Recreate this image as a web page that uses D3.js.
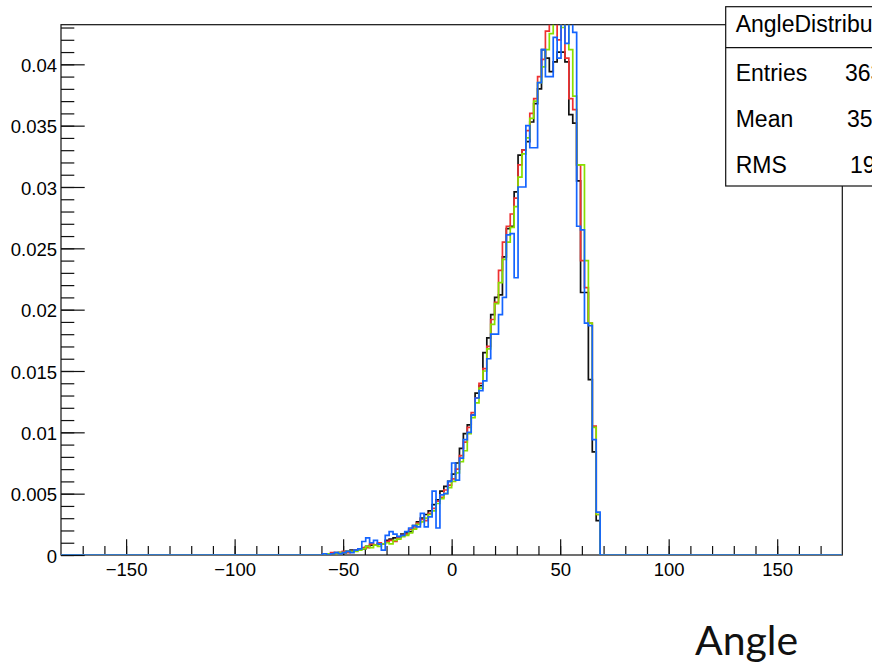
<!DOCTYPE html>
<html>
<head>
<meta charset="utf-8">
<script src="https://cdn.jsdelivr.net/npm/d3@7"></script>
<style>
  body { margin: 0; background: #fff; }
  svg { display: block; }
  .tick text { font-family: "Liberation Sans", Arial, sans-serif; font-size: 18.5px; fill: #000; }
  .tick line { stroke: #111; stroke-width: 1.2; }
  .stats text { font-family: "Liberation Sans", Arial, sans-serif; font-size: 23px; fill: #000; }
</style>
</head>
<body>
<div id="chart"></div>
<script>
// histogram binning: 200 bins from -180 to 180, first filled bin is 67
const binLow = -180;
const binWidth = 1.8;
const nBins = 200;
const firstBin = 67;

// bin contents (bins 67..137)
const blackVals = [
  0.0001,0.0001,0.0001,0.0002,0.0002,0.0002,0.0003,0.0004,0.0004,0.0005,
  0.0005,0.0007,0.0008,0.0008,0.0009,0.0009,0.0012,0.0013,0.0014,0.0015,
  0.0017,0.0018,0.0019,0.0024,0.0027,0.0030,0.0033,0.0036,0.0041,0.0045,
  0.0052,0.0056,0.0060,0.0066,0.0075,0.0087,0.0099,0.0106,0.0114,0.0132,
  0.0138,0.0165,0.0177,0.0196,0.0210,0.0212,0.0243,0.0266,0.0268,0.0296,
  0.0326,0.0330,0.0337,0.0353,0.0368,0.0380,0.0412,0.0405,0.0394,0.0402,
  0.0410,0.0410,0.0402,0.0359,0.0352,0.0305,0.0214,0.0214,0.0143,0.0084,
  0.0028];
const redVals = [
  0.0001,0.0001,0.0002,0.0001,0.0002,0.0003,0.0002,0.0003,0.0004,0.0005,
  0.0006,0.0006,0.0009,0.0008,0.0010,0.0009,0.0011,0.0012,0.0011,0.0014,
  0.0016,0.0017,0.0021,0.0022,0.0026,0.0029,0.0028,0.0034,0.0038,0.0044,
  0.0047,0.0053,0.0057,0.0062,0.0070,0.0081,0.0092,0.0104,0.0116,0.0128,
  0.0140,0.0152,0.0170,0.0192,0.0206,0.0232,0.0255,0.0268,0.0278,0.0291,
  0.0318,0.0330,0.0346,0.0360,0.0372,0.0390,0.0404,0.0427,0.0446,0.0438,
  0.0420,0.0440,0.0405,0.0372,0.0363,0.0318,0.0240,0.0218,0.0189,0.0105,
  0.0033];
const greenVals = [
  0.0000,0.0001,0.0001,0.0001,0.0002,0.0002,0.0003,0.0003,0.0003,0.0004,
  0.0005,0.0007,0.0006,0.0008,0.0007,0.0009,0.0010,0.0009,0.0012,0.0013,
  0.0015,0.0016,0.0018,0.0021,0.0025,0.0027,0.0030,0.0033,0.0036,0.0042,
  0.0046,0.0050,0.0055,0.0060,0.0067,0.0076,0.0085,0.0099,0.0112,0.0124,
  0.0136,0.0150,0.0168,0.0188,0.0205,0.0222,0.0241,0.0255,0.0267,0.0284,
  0.0308,0.0327,0.0340,0.0356,0.0370,0.0385,0.0398,0.0412,0.0425,0.0448,
  0.0438,0.0430,0.0442,0.0412,0.0374,0.0318,0.0318,0.0240,0.0189,0.0104,
  0.0033];
const blueVals = [
  0.0001,0.0000,0.0001,0.0002,0.0001,0.0002,0.0003,0.0002,0.0004,0.0005,
  0.0011,0.0014,0.0010,0.0012,0.0009,0.0004,0.0016,0.0019,0.0017,0.0015,
  0.0016,0.0019,0.0022,0.0024,0.0023,0.0034,0.0023,0.0031,0.0052,0.0022,
  0.0049,0.0050,0.0060,0.0075,0.0061,0.0079,0.0094,0.0100,0.0114,0.0128,
  0.0134,0.0142,0.0160,0.0180,0.0180,0.0196,0.0210,0.0261,0.0262,0.0226,
  0.0300,0.0300,0.0350,0.0332,0.0332,0.0385,0.0412,0.0390,0.0390,0.0422,
  0.0405,0.0450,0.0417,0.0450,0.0426,0.0268,0.0265,0.0189,0.0187,0.0094,
  0.0035];

const seriesColors = ["#111111", "#ee3030", "#88e000", "#1464ff"];

const xTicksMajor = [-150, -100, -50, 0, 50, 100, 150];
const yTicksMajor = [0, 0.005, 0.01, 0.015, 0.02, 0.025, 0.03, 0.035, 0.04];

const statsTitle = "AngleDistribution";
const statsNames = ["Entries", "Mean", "RMS"];
const statsValues = ["36320", "35.21", "19.47"];
const xTitle = "Angle";

const W = 872, H = 663;
const svg = d3.select("#chart").append("svg")
  .attr("width", W)
  .attr("height", H);

const x = d3.scaleLinear().domain([-180, 180]).range([61, 842.3]);
const y = d3.scaleLinear().domain([0, 0.04323]).range([555, 24.7]);

// clip fuer die histogramme
svg.append("clipPath").attr("id", "frameclip")
  .append("rect")
  .attr("x", x(-180)).attr("y", y.range()[1])
  .attr("width", x(180) - x(-180)).attr("height", y(0) - y.range()[1]);

// frame
svg.append("rect")
  .attr("x", x(-180)).attr("y", y.range()[1])
  .attr("width", x(180) - x(-180)).attr("height", y(0) - y.range()[1])
  .attr("fill", "none").attr("stroke", "#111").attr("stroke-width", 1.2);

// x achse, ticks nach innen
const xMinor = d3.range(-170, 180, 10);
svg.append("g")
  .attr("transform", `translate(0,${y(0)})`)
  .call(d3.axisBottom(x).tickValues(xMinor).tickSize(-9).tickFormat(""))
  .call(g => g.select(".domain").remove());
svg.append("g")
  .attr("transform", `translate(0,${y(0)})`)
  .call(d3.axisBottom(x).tickValues(xTicksMajor).tickSize(-15.7).tickPadding(8)
    .tickFormat(d => d < 0 ? "\u2212" + Math.abs(d) : String(d)))
  .call(g => g.select(".domain").remove());

// y achse
const yMinor = d3.range(0, 0.0435, 0.001);
svg.append("g")
  .attr("transform", `translate(${x(-180)},0)`)
  .call(d3.axisLeft(y).tickValues(yMinor).tickSize(-13.3).tickFormat(""))
  .call(g => g.select(".domain").remove());
svg.append("g")
  .attr("transform", `translate(${x(-180)},0)`)
  .call(d3.axisLeft(y).tickValues(yTicksMajor).tickSize(-23.7).tickPadding(4)
    .tickFormat(d => String(+d.toFixed(3))))
  .call(g => g.select(".domain").remove())
  .call(g => g.selectAll("text").attr("dy", "0.38em"));

// histogramme zeichnen
const allSeries = [blackVals, redVals, greenVals, blueVals];
const stepLine = d3.line()
  .x(d => x(d[0]))
  .y(d => y(d[1]))
  .curve(d3.curveStepAfter);

const plot = svg.append("g").attr("clip-path", "url(#frameclip)");
allSeries.forEach((vals, si) => {
  const pts = [];
  for (let k = 0; k < nBins; k++) {
    const j = k - firstBin;
    const v = (j >= 0 && j < vals.length) ? vals[j] : 0;
    pts.push([binLow + k * binWidth, v]);
  }
  pts.push([binLow + nBins * binWidth, pts[nBins - 1][1]]);
  plot.append("path")
    .datum(pts)
    .attr("d", stepLine)
    .attr("fill", "none")
    .attr("stroke", seriesColors[si])
    .attr("stroke-width", 1.7);
});

// statistik box
const stats = svg.append("g").attr("class", "stats");
stats.append("rect")
  .attr("x", 725.7).attr("y", 6.7)
  .attr("width", 200).attr("height", 186 - 6.7)
  .attr("fill", "#fff").attr("stroke", "#111").attr("stroke-width", 1.2);
stats.append("line")
  .attr("x1", 725.7).attr("x2", 930)
  .attr("y1", 47.7).attr("y2", 47.7)
  .attr("stroke", "#111").attr("stroke-width", 1.2);
stats.append("text")
  .attr("x", 735.7).attr("y", 32)
  .text(statsTitle);
const valueX = [845, 847, 850];
statsNames.forEach((n, i) => {
  const by = 80.5 + i * 46;
  stats.append("text").attr("x", 735.7).attr("y", by).text(n);
  stats.append("text").attr("x", valueX[i]).attr("y", by).text(statsValues[i]);
});

// achsentitel
svg.append("text")
  .attr("x", 695)
  .attr("y", 655)
  .attr("font-family", "Lato, 'Open Sans', sans-serif")
  .attr("font-size", 41)
  .attr("fill", "#111")
  .text(xTitle);
</script>
</body>
</html>
